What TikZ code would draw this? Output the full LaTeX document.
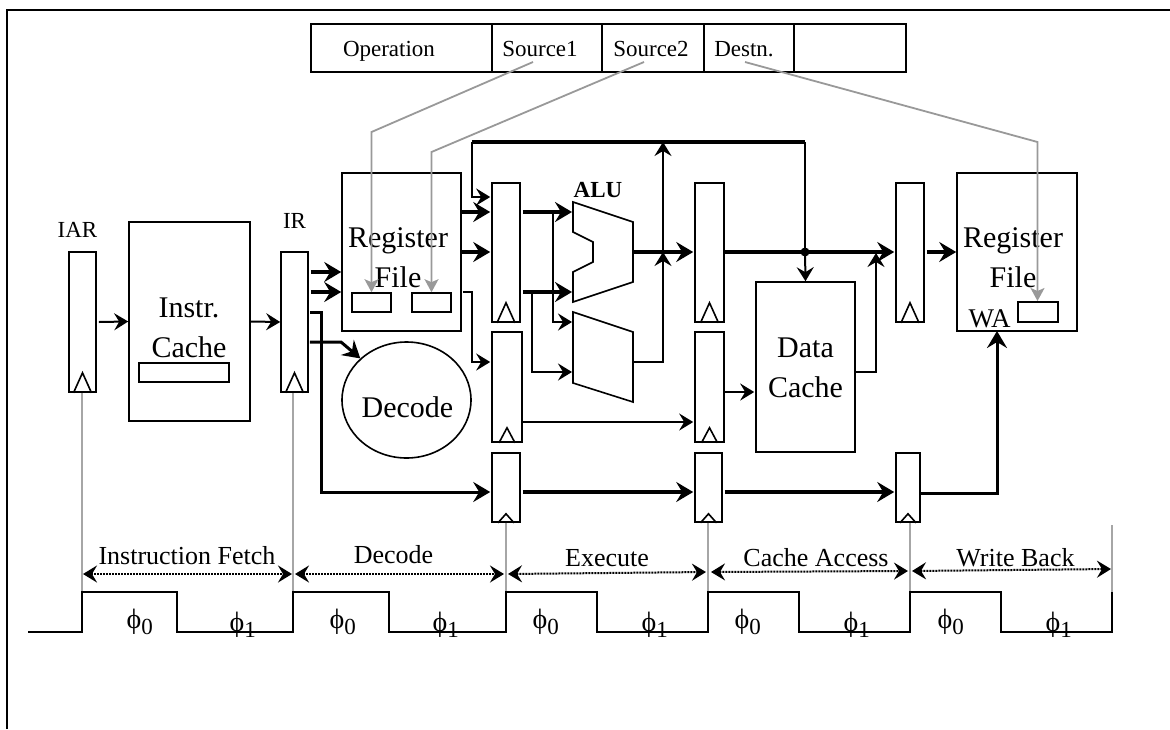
\documentclass[tikz,border=0pt]{standalone}
\usepackage{fontspec}
\setmainfont{Liberation Serif}
\usetikzlibrary{arrows.meta,calc,shapes.geometric}

\newcommand{\phaseA}{ϕ\textsubscript{\fontsize{23}{23}\selectfont 0}}
\newcommand{\phaseB}{ϕ\textsubscript{\fontsize{23}{23}\selectfont 1}}

\begin{document}
\begin{tikzpicture}[
x=1pt, y=-1pt,
box/.style={draw, line width=1.6pt, rectangle, inner sep=0pt},
latch/.style={box, minimum width=#1},
latch/.default=28pt,
cell/.style={box, minimum height=48pt},
txt/.style={anchor=base, inner sep=0pt, font=\fontsize{30}{40}\selectfont, align=center},
mid/.style={txt, font=\fontsize{26}{26}\selectfont},
small/.style={txt, font=\fontsize{23}{23}\selectfont},
fat wire/.style={line width=3.6pt, -{Stealth[length=17pt,width=20pt,inset=6pt]}},
med wire/.style={line width=2pt, -{Stealth[length=14pt,width=17pt,inset=5pt]}},
grey wire/.style={line width=1.8pt, gray!80, -{Stealth[length=13pt,width=14pt,inset=3pt]}},
clk wire/.style={line width=1.6pt, gray!70},
span/.style={line width=2pt, densely dotted, {Stealth[length=14pt,width=17pt,inset=5pt]}-{Stealth[length=14pt,width=17pt,inset=5pt]}}
]
\useasboundingbox (0,0) rectangle (1170,729);
\draw[line width=2pt] (7,729) -- (7,10) -- (1170,10);

% instruction word
\node[cell, minimum width=181pt] (op) at (401.5,48) {};
\node[cell, minimum width=110pt] (srca) at (547,48) {};
\node[cell, minimum width=102pt] (srcb) at (653,48) {};
\node[cell, minimum width=90pt] (dst) at (749,48) {};
\node[cell, minimum width=112pt] (rest) at (850,48) {};
\node[small] (optxt) at (389,56) {Operation};
\node[small] (srcatxt) at (540,56) {Source1};
\node[small] (srcbtxt) at (651,56) {Source2};
\node[small] (dsttxt) at (744,56) {Destn.};

% registers
\node[latch=27pt, minimum height=140pt] (iar) at (82.5,322) {};
\node[latch=27pt, minimum height=140pt] (ir) at (294.5,322) {};
\node[latch, minimum height=139pt] (exa) at (506,252.5) {};
\node[latch=30pt, minimum height=110pt] (exb) at (507,387) {};
\node[latch, minimum height=69pt] (exc) at (506,487.5) {};
\node[latch=29pt, minimum height=139pt] (mema) at (709.5,252.5) {};
\node[latch=29pt, minimum height=110pt] (memb) at (709.5,387) {};
\node[latch=27pt, minimum height=69pt] (memc) at (708.5,487.5) {};
\node[latch, minimum height=139pt] (wba) at (910,252.5) {};
\node[latch=24pt, minimum height=69pt] (wbc) at (908,487.5) {};
\foreach \r/\w/\h in {iar/9/20,ir/9/20,exa/9/20,mema/9/20,wba/9/20,exb/8/15,memb/8/15}
	\draw[line width=1.6pt] ([xshift=-\w pt]\r.south) -- ([yshift=\h pt]\r.south) -- ([xshift=\w pt]\r.south);
\foreach \r in {exc,memc,wbc}
	\draw[line width=1.6pt] ([xshift=-8pt]\r.south) -- ([yshift=9pt]\r.south) -- ([xshift=8pt]\r.south);

% big blocks
\node[box, minimum width=121pt, minimum height=199pt] (icache) at (189.5,321.5) {};
\node[box, minimum width=90pt, minimum height=19pt] (itag) at (184,372.5) {};
\node[box, minimum width=119pt, minimum height=158pt] (rfa) at (401.5,252) {};
\node[box, minimum width=39pt, minimum height=19pt] (rs) at (371.5,302.5) {};
\node[box, minimum width=39pt, minimum height=19pt] (rt) at (431.5,302.5) {};
\node[box, minimum width=120pt, minimum height=158pt] (rfb) at (1017,252) {};
\node[box, minimum width=40pt, minimum height=20pt] (rd) at (1038,312) {};
\node[box, minimum width=99pt, minimum height=170pt] (dcache) at (805.5,367) {};
\node[draw, line width=1.6pt, ellipse, inner sep=0pt, minimum width=129pt, minimum height=116pt] (dec) at (406.5,400) {};
\node[txt] (icachetxt) at (189,357) {Instr.\\Cache};
\node[txt] (rfatxt) at (398,287) {Register\\File};
\node[txt] (rfbtxt) at (1013,287) {Register\\File};
\node[txt] (dcachetxt) at (805.5,397) {Data\\Cache};
\node[txt] (dectxt) at (407.5,417) {Decode};
\node[mid, font=\fontsize{27}{27}\selectfont] (watxt) at (989.5,327) {WA};
\node[small] (iartxt) at (77.5,237) {IAR};
\node[small] (irtxt) at (294.5,228) {IR};
\node[small, font=\fontsize{23}{23}\bfseries\selectfont] (alutxt) at (598,197) {ALU};

% alu and the adder below it
\draw[line width=1.6pt] (573,202) -- (633,222) -- (633,282) -- (573,302) -- (573,272) -- (593,262) -- (593,242) -- (573,232) -- cycle;
\draw[line width=1.6pt] (573,312) -- (633,332) -- (633,402) -- (573,383) -- cycle;
\coordinate (aluin) at (572,0);
\coordinate (aluout) at (633,252);
\coordinate (addout) at (633,362);
\coordinate (bypass) at (663,252);
\coordinate (bustop) at (472,142);
\coordinate (busend) at (805,142);
\coordinate (cacheout) at (876,253);
\coordinate (rowa) at (0,212);
\coordinate (rowb) at (0,252);
\coordinate (rowc) at (0,292);
\coordinate (rowd) at (0,492);

% fetch and decode
\draw[med wire] ([xshift=2pt]iar.east) -- (icache.west);
\draw[med wire] (icache.east) -- (ir.west);
\draw[fat wire] ([xshift=2pt]ir.east |- 0,272) -- (rfa.west |- 0,272);
\draw[fat wire] ([xshift=2pt]ir.east |- rowc) -- (rfa.west |- rowc);
\draw[fat wire, line width=3pt] ([xshift=1pt]ir.east |- 0,312) -- (321,312) -- (321,492) -- ([xshift=-1pt]exc.west |- rowd);
\draw[fat wire, line width=3pt] ([xshift=1pt]ir.east |- 0,342) -- (341,342) -- (dec.north west);

% register file to execute
\draw[med wire] ([xshift=1pt]rfa.east |- rowc) -- (472,292) -- (472,362) -- ([xshift=-1pt]exb.west |- 0,362);
\draw[fat wire] (rfa.east |- rowa) -- ([xshift=-1pt]exa.west |- rowa);
\draw[fat wire] (rfa.east |- rowb) -- ([xshift=-1pt]exa.west |- rowb);
\draw[fat wire] ([xshift=2pt]exa.east |- rowa) -- (aluin |- rowa);
\draw[fat wire] ([xshift=2pt]exa.east |- rowc) -- (aluin |- rowc);
\draw[med wire] (553,212) -- (553,322) -- (aluin |- 0,322);
\draw[med wire] (532,292) -- (532,372) -- (aluin |- 0,372);
\draw[med wire] (exb.east |- 0,422) -- ([xshift=-1pt]memb.west |- 0,422);

% forwarding
\draw[fat wire] (aluout) -- ([xshift=-1pt]mema.west |- rowb);
\draw[med wire] (addout) -- (663,362) -- (bypass);
\draw[med wire] (bypass) -- (bypass |- bustop);
\draw[line width=3.6pt] (bustop) -- (busend);
\draw[line width=2pt] (busend) -- (805,252);
\draw[med wire] (bustop) -- (472,197) -- ([xshift=-1pt]exa.west |- 0,197);

% memory and write back
\draw[fat wire] (mema.east |- rowb) -- ([xshift=-1pt]wba.west |- rowb);
\fill (805,252) circle (4.5pt);
\draw[med wire] (805,252) -- (dcache.north);
\draw[med wire] (memb.east |- 0,392) -- ([xshift=-1pt]dcache.west |- 0,392);
\draw[med wire] (dcache.east |- 0,372) -- (876,372) -- (cacheout);
\draw[fat wire] ([xshift=2pt]wba.east |- rowb) -- (rfb.west |- rowb);
\draw[fat wire] ([xshift=2pt]exc.east |- rowd) -- ([xshift=-1pt]memc.west |- rowd);
\draw[fat wire] ([xshift=2pt]memc.east |- rowd) -- ([xshift=-1pt]wbc.west |- rowd);
\draw[fat wire, line width=3pt] (wbc.east |- 0,493) -- (997,493) -- (997,331);

% operand fields
\coordinate (srcapin) at (533,62);
\coordinate (srcbpin) at (644,62);
\coordinate (dstpin) at (745,62);
\draw[grey wire] (srcapin) -- (371.5,132) -- (rs.north);
\draw[grey wire] (srcbpin) -- (431.5,152) -- (rt.north);
\draw[grey wire] (dstpin) -- (1037.5,142) -- (1037.5,301);

% clock
\coordinate (cka) at (82,592);
\coordinate (ckb) at (293,592);
\coordinate (ckc) at (506,592);
\coordinate (ckd) at (708,592);
\coordinate (cke) at (910,592);
\coordinate (ckf) at (1112,592);
\coordinate (ckftop) at (1112,525);
\draw[clk wire] (cka |- iar.south) -- (cka);
\draw[clk wire] (ckb |- ir.south) -- (ckb);
\draw[clk wire] (ckc |- exc.south) -- (ckc);
\draw[clk wire] (ckd |- memc.south) -- (ckd);
\draw[clk wire] (cke |- wbc.south) -- (cke);
\draw[clk wire] (ckftop) -- (ckf);
\draw[line width=1.8pt] (28,632) -- (82,632) -- (cka) -- (177,592) -- (177,632) -- (293,632) -- (ckb) -- (389,592) -- (389,632)
	-- (506,632) -- (ckc) -- (597,592) -- (597,632) -- (708,632) -- (ckd) -- (799,592) -- (799,632) -- (910,632) -- (cke)
	-- (1001,592) -- (1001,632) -- (1112,632) -- (1112,592);
\foreach \n/\x in {a/140,b/343,c/546,d/748,e/951}
	\node[txt, font=\fontsize{28}{28}\selectfont] (phi\n) at (\x,628) {\phaseA};
\foreach \n/\x in {a/243,b/446,c/655,d/857,e/1059}
	\node[txt, font=\fontsize{28}{28}\selectfont] (psi\n) at (\x,631) {\phaseB};

% pipeline stages
\draw[span] ($(cka)+(1,-18)$) -- ($(ckb)+(-1,-18)$);
\draw[span] ($(ckb)+(2,-18)$) -- ($(ckc)+(-2,-18)$);
\draw[span] ($(ckc)+(2,-18)$) -- ($(ckd)+(-2,-20)$);
\draw[span] ($(ckd)+(3,-20)$) -- ($(cke)+(-2,-21)$);
\draw[span] ($(cke)+(2,-21)$) -- ($(ckf)+(-1,-23)$);
\node[mid] (stagea) at (187,564) {Instruction Fetch};
\node[mid] (stageb) at (393.5,563) {Decode};
\node[mid] (stagec) at (607,566) {Execute};
\node[mid] (staged) at (816,566) {Cache Access};
\node[mid] (stagee) at (1015.5,566) {Write Back};
\end{tikzpicture}
\end{document}
